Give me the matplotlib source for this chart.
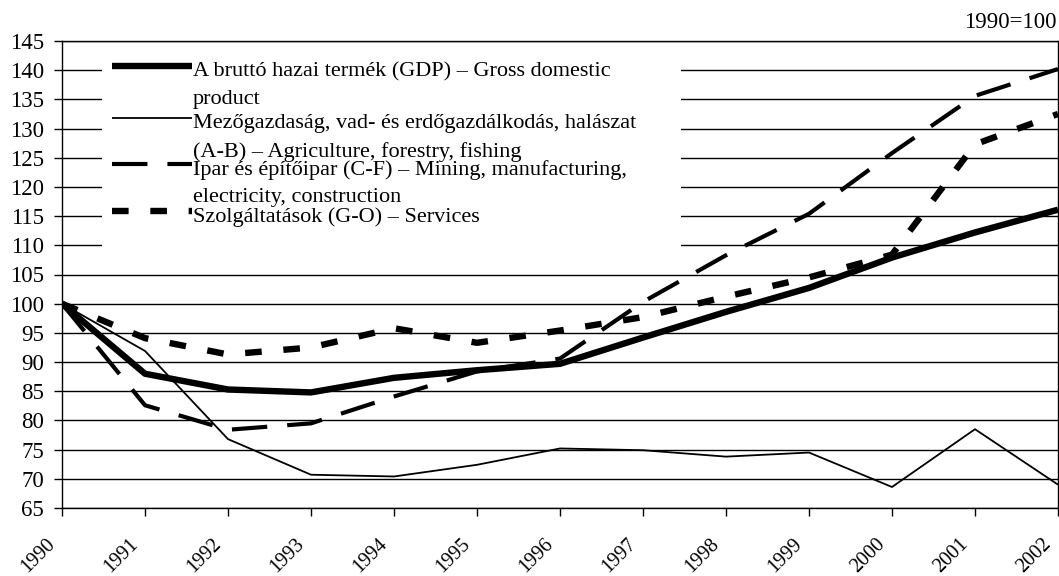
import matplotlib.pyplot as plt
import matplotlib.transforms as mtransforms
from matplotlib.lines import Line2D
from matplotlib.patches import Rectangle

plt.rcParams['font.family'] = ['Liberation Serif', 'DejaVu Serif']

# Index values, 1990 = 100
years = [1990, 1991, 1992, 1993, 1994, 1995, 1996, 1997, 1998, 1999, 2000, 2001, 2002]
gdp = [100, 88.0, 85.3, 84.8, 87.3, 88.6, 89.7, 94.2, 98.6, 102.7, 107.9, 112.2, 116.1]
agriculture = [100, 91.9, 76.8, 70.7, 70.4, 72.4, 75.2, 74.9, 73.8, 74.5, 68.6, 78.5, 69.0]
industry = [100, 82.6, 78.4, 79.5, 84.1, 88.4, 90.6, 100.3, 108.3, 115.4, 125.8, 135.6, 140.2]
services = [100, 94.1, 91.3, 92.5, 95.8, 93.3, 95.4, 97.7, 101.2, 104.5, 108.4, 127.3, 132.5]

labels = [
    "A bruttó hazai termék (GDP) – Gross domestic\nproduct",
    "Mezőgazdaság, vad- és erdőgazdálkodás, halászat\n(A-B) – Agriculture, forestry, fishing",
    "Ipar és építőipar (C-F) – Mining, manufacturing,\nelectricity, construction",
    "Szolgáltatások (G-O) – Services",
]

W, H = 1059, 576
fig = plt.figure(figsize=(W / 100, H / 100), dpi=100)
ax = fig.add_axes([62 / W, 1 - 508 / H, 996 / W, 467 / H])

styles = [
    dict(lw=4.6, ls='-'),
    dict(lw=1.3, ls='-'),
    dict(lw=3.0, dashes=(8.5, 4.8)),
    dict(lw=4.6, dashes=(2.6, 3.4)),
]
series = [gdp, agriculture, industry, services]
for vals, st in zip(series, styles):
    ax.plot(years, vals, color='black', solid_capstyle='butt',
            dash_capstyle='butt', zorder=3, **st)

ax.set_xlim(1990, 2002)
ax.set_ylim(65, 145)
ax.set_yticks(range(65, 146, 5))
ax.set_xticks(years)
ax.set_xticklabels([str(y) for y in years], rotation=45, ha='right', va='center',
                   rotation_mode='anchor', fontsize=14.5)
ax.tick_params(axis='y', direction='out', length=6, width=1, labelsize=16.5, pad=7)
ax.tick_params(axis='x', direction='out', length=6, width=1, pad=18)
shift = mtransforms.ScaledTranslation(-10 / 100, 0, fig.dpi_scale_trans)
for lab in ax.get_xticklabels():
    lab.set_transform(lab.get_transform() + shift)
ax.yaxis.grid(True, color='black', lw=1)
ax.set_axisbelow(True)
for s in ax.spines.values():
    s.set_color('black')
    s.set_linewidth(1)

# legend drawn by hand so the symbol sits next to the first text line
def px(x, y):
    return (x - 62) / 996, (508 - y) / 467

x0, y0 = px(102, 250)
x1, y1 = px(681, 44)
ax.add_patch(Rectangle((x0, y0), x1 - x0, y1 - y0, transform=ax.transAxes,
                       facecolor='white', edgecolor='none', zorder=4))
handle_y = [66, 118, 164, 211]
for hy, st, lab in zip(handle_y, styles, labels):
    hx0, hyy = px(112, hy)
    hx1, _ = px(192, hy)
    ax.add_line(Line2D([hx0, hx1], [hyy, hyy], transform=ax.transAxes,
                       color='black', solid_capstyle='butt',
                       dash_capstyle='butt', zorder=5, **st))
    tx, ty = px(193, hy - 4)
    ax.text(tx, ty, lab, transform=ax.transAxes, ha='left', va='top',
            fontsize=16, linespacing=1.6, zorder=6)

fig.text(1057 / W, 1 - 22 / H, "1990=100", ha='right', va='center', fontsize=16.5)

fig.savefig('out.png', dpi=100)
